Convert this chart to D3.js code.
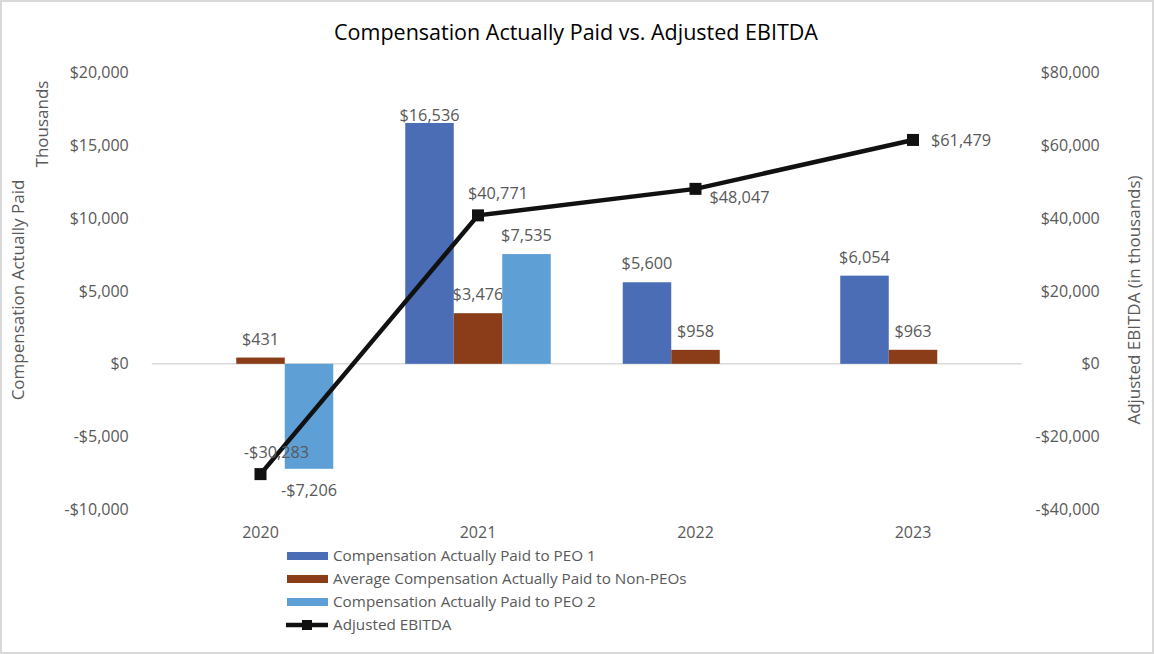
<!DOCTYPE html>
<html><head><meta charset="utf-8">
<script src="https://cdn.jsdelivr.net/npm/d3@7"></script>
<style>
body{margin:0;background:#fff;}
svg{display:block;font-family:"Open Sans",sans-serif;}
</style></head>
<body><svg id="chart" width="1154" height="654"></svg>
<script>
const years = ["2020","2021","2022","2023"];
const seriesNames = ["Compensation Actually Paid to PEO 1","Average Compensation Actually Paid to Non-PEOs","Compensation Actually Paid to PEO 2"];
const peo1 = [null, 16536, 5600, 6054];
const nonPeo = [431, 3476, 958, 963];
const peo2 = [-7206, 7535, null, null];
const ebitda = [-30283, 40771, 48047, 61479];
const ebitdaName = "Adjusted EBITDA";
const leftTicks = [-10000, -5000, 0, 5000, 10000, 15000, 20000];
const rightTicks = [-40000, -20000, 0, 20000, 40000, 60000, 80000];
const colors = ["#4a6db6","#8b3d1a","#5e9fd6"];
// label offsets for EBITDA labels (layout)
const ebitdaLabelOffsets = [[16,-22],[20,-22],[44,8],[48,0]];

const svg = d3.select("#chart");
const W = 1154, H = 654;
svg.append("rect").attr("x",1).attr("y",1).attr("width",W-2).attr("height",H-2)
  .attr("fill","#fff").attr("stroke","#d9d9d9").attr("stroke-width",2);

const plotL = 151.75, plotR = 1021.75, plotT = 72.5, plotB = 509.5;
const x = d3.scaleBand().domain(years).range([plotL, plotR]).padding(0);
const xs = d3.scaleBand().domain(d3.range(3)).range([0, x.bandwidth()]).paddingInner(0).paddingOuter(0.742);
const yL = d3.scaleLinear().domain([-10000, 20000]).range([plotB, plotT]);
const yR = d3.scaleLinear().domain([-40000, 80000]).range([plotB, plotT]);
const fmt = v => (v < 0 ? "-$" : "$") + d3.format(",")(Math.abs(v));
const grey = "#595959";

svg.append("text").attr("x",576).attr("y",40).attr("text-anchor","middle")
  .attr("font-size",21.5).attr("fill","#000").text("Compensation Actually Paid vs. Adjusted EBITDA");

// zero line
svg.append("line").attr("x1",plotL).attr("x2",plotR).attr("y1",yL(0)).attr("y2",yL(0))
  .attr("stroke","#d9d9d9").attr("stroke-width",1.5);

// left axis
const axL = svg.append("g").attr("transform",`translate(${plotL},0)`)
  .call(d3.axisLeft(yL).tickValues(leftTicks).tickFormat(fmt).tickSize(0).tickPadding(23));
axL.select(".domain").remove();
axL.selectAll("text").attr("font-size",16).attr("fill",grey).attr("font-family","Open Sans");
// right axis
const axR = svg.append("g").attr("transform",`translate(${plotR},0)`)
  .call(d3.axisRight(yR).tickValues(rightTicks).tickFormat(fmt).tickSize(0).tickPadding(78));
axR.select(".domain").remove();
axR.selectAll("text").attr("font-size",16).attr("fill",grey).attr("font-family","Open Sans").attr("text-anchor","end");
// x axis
const axX = svg.append("g").attr("transform",`translate(0,${plotB})`)
  .call(d3.axisBottom(x).tickSize(0).tickPadding(17));
axX.select(".domain").remove();
axX.selectAll("text").attr("font-size",16).attr("fill",grey).attr("font-family","Open Sans");

// axis titles
svg.append("text").attr("transform","translate(24,290) rotate(-90)").attr("text-anchor","middle")
  .attr("font-size",17).attr("fill",grey).text("Compensation Actually Paid");
svg.append("text").attr("transform","translate(48,124) rotate(-90)").attr("text-anchor","middle")
  .attr("font-size",17).attr("fill",grey).text("Thousands");
svg.append("text").attr("transform","translate(1140,300) rotate(-90)").attr("text-anchor","middle")
  .attr("font-size",17).attr("fill",grey).text("Adjusted EBITDA (in thousands)");

// bars
const allSeries = [peo1, nonPeo, peo2];
allSeries.forEach((vals, si) => {
  const data = years.map((yr,i)=>({yr, v: vals[i]})).filter(d=>d.v!==null);
  const g = svg.append("g");
  g.selectAll("rect").data(data).join("rect")
    .attr("x", d=>x(d.yr)+xs(si)).attr("width", xs.bandwidth())
    .attr("y", d=>yL(Math.max(0,d.v))).attr("height", d=>Math.abs(yL(d.v)-yL(0)))
    .attr("fill", colors[si]);
  g.selectAll("text").data(data).join("text")
    .attr("x", d=>x(d.yr)+xs(si)+xs.bandwidth()/2)
    .attr("y", d=> d.v>=0 ? Math.max(yL(d.v)-13, 121) : yL(d.v)+27)
    .attr("text-anchor","middle").attr("font-size",16.3).attr("fill",grey).text(d=>fmt(d.v));
});

// line
const pts = years.map((yr,i)=>({yr, v: ebitda[i], i}));
const cx = d => x(d.yr)+x.bandwidth()/2;
svg.append("path").datum(pts)
  .attr("d", d3.line().x(cx).y(d=>yR(d.v)))
  .attr("fill","none").attr("stroke","#111").attr("stroke-width",4.5);
svg.selectAll("rect.mk").data(pts).join("rect").attr("class","mk")
  .attr("x", d=>cx(d)-6).attr("y", d=>yR(d.v)-6).attr("width",12).attr("height",12).attr("fill","#111");
svg.selectAll("text.el").data(pts).join("text").attr("class","el")
  .attr("x", d=>cx(d)+ebitdaLabelOffsets[d.i][0]).attr("y", d=>yR(d.v)+ebitdaLabelOffsets[d.i][1]+6)
  .attr("text-anchor","middle").attr("font-size",16.3).attr("fill",grey).text(d=>fmt(d.v));

// legend
const legend = svg.append("g").attr("transform","translate(287,0)");
const legItems = seriesNames.map((n,i)=>({n, c: colors[i], type:"bar"})).concat([{n: ebitdaName, c:"#111", type:"line"}]);
legItems.forEach((d,i)=>{
  const yy = 556 + i*23;
  if (d.type==="bar") {
    legend.append("rect").attr("x",0).attr("y",yy-4).attr("width",41).attr("height",8).attr("fill",d.c);
  } else {
    legend.append("line").attr("x1",-1).attr("x2",41).attr("y1",yy).attr("y2",yy).attr("stroke",d.c).attr("stroke-width",4.5);
    legend.append("rect").attr("x",15).attr("y",yy-5).attr("width",10).attr("height",10).attr("fill",d.c);
  }
  legend.append("text").attr("x",46).attr("y",yy+5).attr("font-size",15.25).attr("fill",grey).text(d.n);
});
</script></body></html>
